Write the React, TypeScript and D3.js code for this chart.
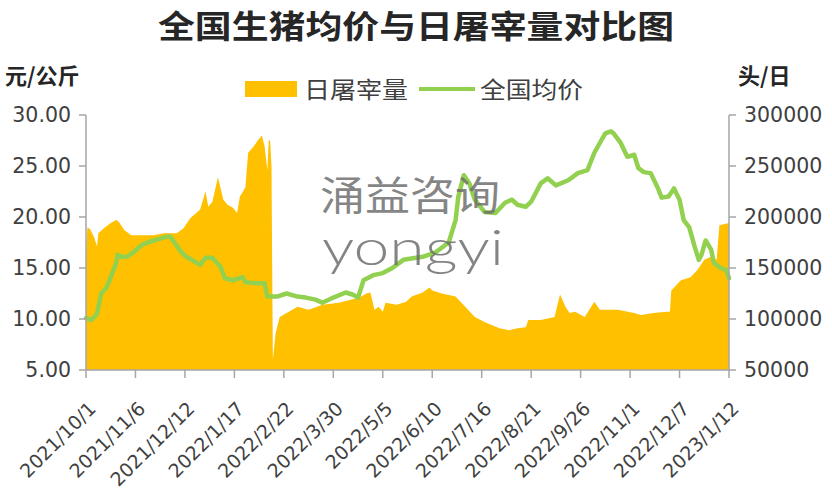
import React from "react";
import * as d3 from "d3";

const W = 832;
const H = 500;

const priceDates = [
  "2021-10-01","2021-10-05","2021-10-09","2021-10-12","2021-10-16","2021-10-19","2021-10-23","2021-10-24","2021-10-27","2021-10-31",
  "2021-11-05","2021-11-11","2021-11-17","2021-11-27","2021-12-01","2021-12-04","2021-12-09","2021-12-13","2021-12-17","2021-12-23",
  "2021-12-27","2022-01-01","2022-01-07","2022-01-10","2022-01-16","2022-01-23","2022-01-25","2022-02-02","2022-02-08","2022-02-10",
  "2022-02-17","2022-02-24","2022-03-04","2022-03-10","2022-03-17","2022-03-22","2022-03-30","2022-04-08","2022-04-13","2022-04-17",
  "2022-04-21","2022-04-28","2022-05-05","2022-05-12","2022-05-20","2022-06-03","2022-06-12","2022-06-22","2022-06-27","2022-06-29",
  "2022-07-03","2022-07-07","2022-07-11","2022-07-18","2022-07-26","2022-08-02","2022-08-07","2022-08-11","2022-08-17","2022-08-21",
  "2022-08-28","2022-09-02","2022-09-08","2022-09-17","2022-09-24","2022-10-01","2022-10-06","2022-10-11","2022-10-14","2022-10-18",
  "2022-10-20","2022-10-25","2022-10-30","2022-11-04","2022-11-07","2022-11-11","2022-11-16","2022-11-21","2022-11-24","2022-11-29",
  "2022-12-03","2022-12-07","2022-12-10","2022-12-14","2022-12-18","2022-12-21","2022-12-23","2022-12-26","2022-12-30","2023-01-01",
  "2023-01-06","2023-01-10","2023-01-12"
];
const priceValues = [
  10.1, 9.9, 10.5, 12.5, 13.1, 14.1, 15.5, 16.3, 16.1, 16.1,
  16.6, 17.3, 17.6, 18.0, 18.1, 17.6, 16.6, 16.1, 15.8, 15.3,
  16.0, 16.0, 15.1, 14.0, 13.8, 14.1, 13.6, 13.5, 13.5, 12.2,
  12.2, 12.5, 12.2, 12.1, 11.9, 11.6, 12.1, 12.6, 12.4, 12.1,
  13.8, 14.3, 14.5, 15.0, 15.8, 16.1, 16.5, 17.5, 19.7, 22.0,
  24.1, 23.3, 21.7, 20.5, 20.4, 21.4, 21.7, 21.2, 21.0, 21.5,
  23.3, 23.8, 23.1, 23.6, 24.3, 24.6, 26.3, 27.5, 28.2, 28.4,
  28.2, 27.3, 25.9, 26.1, 24.8, 24.4, 24.3, 22.9, 21.9, 22.0,
  22.8, 21.7, 19.7, 19.0, 17.1, 15.8, 16.3, 17.7, 16.8, 15.5,
  15.0, 14.8, 14.0
];

const slaughterDates = [
  "2021-10-01","2021-10-02","2021-10-04","2021-10-07","2021-10-09","2021-10-10","2021-10-14","2021-10-19","2021-10-23","2021-10-25",
  "2021-10-29","2021-11-03","2021-11-12","2021-11-19","2021-11-27","2021-12-06","2021-12-11","2021-12-16","2021-12-23","2021-12-27",
  "2021-12-29","2022-01-01","2022-01-05","2022-01-09","2022-01-12","2022-01-16","2022-01-19","2022-01-21","2022-01-25","2022-01-27",
  "2022-01-31","2022-02-03","2022-02-06","2022-02-08","2022-02-10","2022-02-11","2022-02-12","2022-02-13","2022-02-14","2022-02-16",
  "2022-02-19","2022-02-24","2022-03-04","2022-03-12","2022-03-22","2022-04-03","2022-04-18","2022-04-23","2022-04-26","2022-04-29",
  "2022-05-02","2022-05-05","2022-05-07","2022-05-15","2022-05-22","2022-05-26","2022-06-03","2022-06-08","2022-06-10","2022-06-17",
  "2022-06-27","2022-07-04","2022-07-11","2022-07-18","2022-07-29","2022-08-05","2022-08-11","2022-08-17","2022-08-19","2022-08-28",
  "2022-09-07","2022-09-11","2022-09-15","2022-09-18","2022-09-22","2022-09-29","2022-10-06","2022-10-10","2022-10-23","2022-11-04",
  "2022-11-09","2022-11-18","2022-11-28","2022-11-30","2022-12-01","2022-12-08","2022-12-15","2022-12-20","2022-12-25","2022-12-30",
  "2023-01-03","2023-01-05","2023-01-12"
];
const slaughterValues = [
  166000, 190000, 188000, 180000, 171000, 184000, 189000, 194000, 197000, 195000,
  187000, 182000, 182000, 182000, 184000, 184000, 189000, 199000, 207000, 225000,
  210000, 215000, 239000, 217000, 212000, 209000, 204000, 220000, 229000, 263000,
  269000, 275000, 280000, 269000, 246000, 275000, 275000, 250000, 60000, 86000,
  102000, 106000, 112000, 109000, 114000, 116000, 121000, 125000, 126000, 109000,
  112000, 107000, 116000, 114000, 117000, 122000, 126000, 131000, 128000, 125000,
  122000, 112000, 102000, 97000, 91000, 89000, 91000, 92000, 99000, 99000,
  102000, 124000, 112000, 106000, 107000, 102000, 117000, 109000, 109000, 106000,
  104000, 106000, 107000, 107000, 128000, 138000, 141000, 148000, 158000, 161000,
  158000, 192000, 194000
];

const leftTicks = [5, 10, 15, 20, 25, 30];
const rightTicks = [50000, 100000, 150000, 200000, 250000, 300000];
const xTickLabels = [
  "2021/10/1","2021/11/6","2021/12/12","2022/1/17","2022/2/22","2022/3/30","2022/5/5",
  "2022/6/10","2022/7/16","2022/8/21","2022/9/26","2022/11/1","2022/12/7","2023/1/12"
];

const TITLE = "全国生猪均价与日屠宰量对比图";
const LEFT_UNIT = "元/公斤";
const RIGHT_UNIT = "头/日";
const SERIES_AREA = "日屠宰量";
const SERIES_LINE = "全国均价";

const parse = d3.timeParse("%Y-%m-%d");
const parseTick = d3.timeParse("%Y/%m/%d");

const FONT = "'Noto Sans CJK SC', 'Noto Sans', sans-serif";
const NUM_FONT = "'DejaVu Sans', sans-serif";
const AXIS_COLOR = "#a6a6a6";
const TEXT_COLOR = "#404040";

export default function App() {
  const left = 86, right = 729, top = 115, bottom = 370;
  const x = d3.scaleTime()
    .domain([parse("2021-10-01") as Date, parse("2023-01-12") as Date])
    .range([left, right]);
  const yL = d3.scaleLinear().domain([5, 30]).range([bottom, top]);
  const yR = d3.scaleLinear().domain([50000, 300000]).range([bottom, top]);

  const areaData = slaughterDates.map((d, i) => ({ d: parse(d) as Date, v: slaughterValues[i] }));
  const lineData = priceDates.map((d, i) => ({ d: parse(d) as Date, v: priceValues[i] }));

  const areaGen = d3.area<{ d: Date; v: number }>()
    .x((p) => x(p.d))
    .y0(yR(50000))
    .y1((p) => yR(p.v));
  const lineGen = d3.line<{ d: Date; v: number }>()
    .x((p) => x(p.d))
    .y((p) => yL(p.v));

  const xTicks = xTickLabels.map((s) => ({ s, d: parseTick(s) as Date }));

  return (
    <svg width={W} height={H} style={{ position: "absolute", left: 0, top: 0, background: "#fff" }}
      fontFamily={FONT}>
      <rect x={0} y={0} width={W} height={H} fill="#fff" />
      <text x={416} y={38} textAnchor="middle" fontSize={32} fontWeight={700} fill="#262626"
        textLength={516} lengthAdjust="spacingAndGlyphs">{TITLE}</text>

      <text x={5} y={84} fontSize={22} fontWeight={700} fill="#262626">{LEFT_UNIT}</text>
      <text x={738} y={84} fontSize={22} fontWeight={700} fill="#262626">{RIGHT_UNIT}</text>

      {/* legend */}
      <rect x={245} y={81} width={52} height={16} fill="#FFC000" />
      <text x={304} y={98} fontSize={23} fill={TEXT_COLOR} textLength={104}
        lengthAdjust="spacingAndGlyphs">{SERIES_AREA}</text>
      <line x1={419} x2={475} y1={89} y2={89} stroke="#92D050" strokeWidth={4} />
      <text x={480} y={98} fontSize={23} fill={TEXT_COLOR} textLength={103}
        lengthAdjust="spacingAndGlyphs">{SERIES_LINE}</text>

      {/* series */}
      <path d={areaGen(areaData) || ""} fill="#FFC000" />
      <path d={lineGen(lineData) || ""} fill="none" stroke="#92D050" strokeWidth={4.5}
        strokeLinejoin="round" strokeLinecap="round" />

      {/* watermark */}
      <g fill="#6f6f6f" fillOpacity={0.85}>
        <text x={320} y={210} fontSize={40} textLength={180} lengthAdjust="spacingAndGlyphs">涌益咨询</text>
        <text x={322} y={265} fontSize={50} fontWeight={300} fontFamily="Lato, 'Open Sans', sans-serif"
          textLength={182} lengthAdjust="spacingAndGlyphs">yongyi</text>
      </g>

      {/* axes */}
      <line x1={left} x2={left} y1={top} y2={bottom} stroke={AXIS_COLOR} strokeWidth={1.5} />
      <line x1={right} x2={right} y1={top} y2={bottom} stroke={AXIS_COLOR} strokeWidth={1.5} />
      <line x1={left} x2={right} y1={bottom} y2={bottom} stroke={AXIS_COLOR} strokeWidth={1.5} />

      {leftTicks.map((t) => (
        <g key={"l" + t}>
          <line x1={left - 7} x2={left} y1={yL(t)} y2={yL(t)} stroke={AXIS_COLOR} strokeWidth={1.5} />
          <text x={71} y={yL(t)} dy="0.36em" textAnchor="end" fontSize={20.5} fill={TEXT_COLOR}
            fontFamily={NUM_FONT}>
            {t.toFixed(2)}
          </text>
        </g>
      ))}
      {rightTicks.map((t) => (
        <g key={"r" + t}>
          <line x1={right} x2={right + 7} y1={yR(t)} y2={yR(t)} stroke={AXIS_COLOR} strokeWidth={1.5} />
          <text x={744} y={yR(t)} dy="0.36em" textAnchor="start" fontSize={20.5} fill={TEXT_COLOR}
            fontFamily={NUM_FONT}>
            {String(t)}
          </text>
        </g>
      ))}
      {xTicks.map((t) => (
        <g key={t.s}>
          <line x1={x(t.d)} x2={x(t.d)} y1={bottom} y2={bottom + 8} stroke={AXIS_COLOR} strokeWidth={1.5} />
          <text transform={`translate(${x(t.d) + 11},${bottom + 40}) rotate(-45)`} textAnchor="end"
            fontSize={19} fill={TEXT_COLOR} fontFamily={NUM_FONT}>{t.s}</text>
        </g>
      ))}
    </svg>
  );
}
